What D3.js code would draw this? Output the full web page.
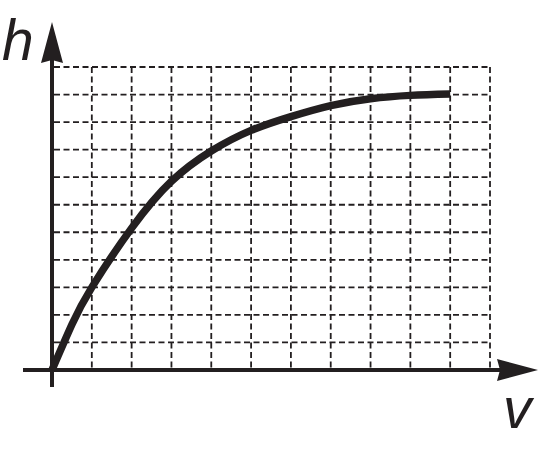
<!DOCTYPE html>
<html lang="en">
  <head>
    <meta charset="UTF-8" />
    <title>h versus v</title>
    <style>
      body { margin: 0; background: #fff; }
      .label {
        font-family: "Liberation Sans", Arial, sans-serif;
        font-style: italic;
        font-size: 57px;
        fill: #231f20;
      }
    </style>
  </head>
  <body>
    <svg width="540" height="449"></svg>
    <script src="https://d3js.org/d3.v7.min.js"></script>
    <script>
      // grid cells along each axis
      const vGrid = [1, 2, 3, 4, 5, 6, 7, 8, 9, 10, 11];
      const hGrid = [1, 2, 3, 4, 5, 6, 7, 8, 9, 10, 11];

      // curve
      const vValues = [0, 0.5, 1, 2, 3, 4, 5, 6, 7, 8, 9, 10];
      const hValues = [0, 1.65, 3.0, 5.15, 6.85, 7.95, 8.7, 9.2, 9.6, 9.85, 9.97, 10.02];

      const ink = "#231f20";
      const svg = d3.select("svg");

      const x = d3.scaleLinear().domain([0, 11]).range([52, 490]);
      const y = d3.scaleLinear().domain([0, 11]).range([370, 67]);

      const grid = svg.append("g")
        .attr("stroke", ink)
        .attr("stroke-width", 1.8)
        .attr("stroke-dasharray", "6,3.5");

      grid.selectAll("line.h")
        .data(hGrid)
        .enter()
        .append("line")
        .attr("class", "h")
        .attr("x1", x(0) + 2)
        .attr("x2", x(11))
        .attr("y1", (d) => y(d))
        .attr("y2", (d) => y(d));

      grid.selectAll("line.v")
        .data(vGrid)
        .enter()
        .append("line")
        .attr("class", "v")
        .attr("x1", (d) => x(d))
        .attr("x2", (d) => x(d))
        .attr("y1", y(11))
        .attr("y2", y(0) - 2);

      // axes
      const axes = svg.append("g").attr("stroke", ink).attr("stroke-width", 4);
      axes.append("line")
        .attr("x1", 23).attr("x2", 505)
        .attr("y1", y(0)).attr("y2", y(0));
      axes.append("line")
        .attr("x1", x(0)).attr("x2", x(0))
        .attr("y1", 387).attr("y2", 55);

      // arrow heads
      svg.append("path")
        .attr("fill", ink)
        .attr("d", `M${x(0)},22 L${x(0) + 11},63 L${x(0)},60 L${x(0) - 11},63 Z`);
      svg.append("path")
        .attr("fill", ink)
        .attr("d", `M538,${y(0)} L497,${y(0) - 11} L500,${y(0)} L497,${y(0) + 11} Z`);

      // curve
      const line = d3.line()
        .x((d, i) => x(vValues[i]))
        .y((d) => y(d))
        .curve(d3.curveNatural);

      svg.append("path")
        .datum(hValues)
        .attr("fill", "none")
        .attr("stroke", ink)
        .attr("stroke-width", 7.5)
        .attr("d", line);

      svg.append("text").attr("class", "label").attr("x", 2).attr("y", 60).text("h");
      svg.append("text").attr("class", "label").attr("x", 503).attr("y", 428).text("v");
    </script>
  </body>
</html>
